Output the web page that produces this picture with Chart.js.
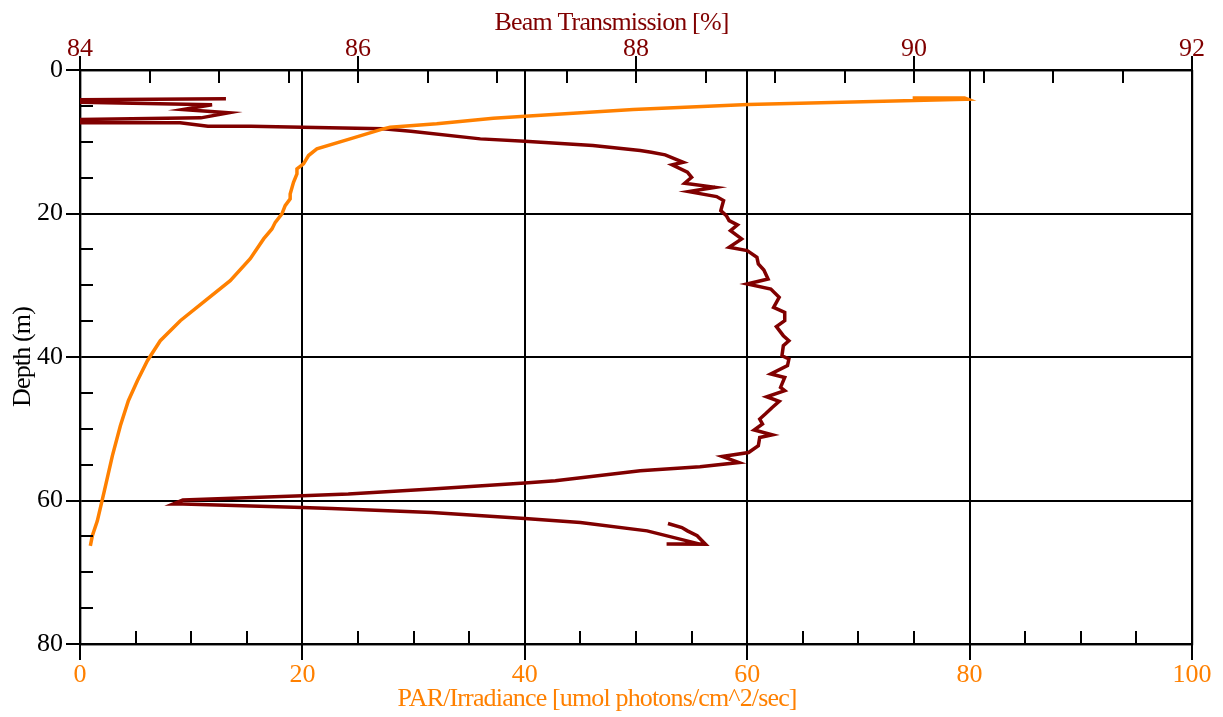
<!DOCTYPE html>
<html>
<head>
<meta charset="utf-8">
<title>Depth profile</title>
<script src="https://cdn.jsdelivr.net/npm/chart.js@4.4.1/dist/chart.umd.min.js"></script>
<style>
  html, body { margin: 0; padding: 0; background: #ffffff; }
  #wrap { width: 1223px; height: 717px; }
</style>
</head>
<body>
<div id="wrap"><canvas id="c" width="1223" height="717"></canvas></div>
<script>
// PAR / irradiance profile (umol photons/cm^2/sec) against depth (m)
const parValues = [74.88, 79.55, 79.82, 60.08, 49.75, 40.02, 37.17, 32.08, 27.89, 27.26, 24.29, 21.30, 20.55, 20.10,
  19.51, 19.51, 19.20, 18.90, 18.90, 18.45, 18.16, 17.56, 17.26, 16.51, 15.31, 13.51, 11.27, 9.02, 7.22,
  6.06, 5.16, 4.35, 3.63, 2.91, 2.19, 1.56, 1.11, 0.93];
const parDepths = [3.91, 3.91, 4.07, 4.81, 5.51, 6.44, 6.72, 7.50, 7.98, 8.20, 9.60, 10.99, 11.92, 13.08,
  13.78, 14.48, 15.65, 17.27, 17.96, 18.90, 20.06, 21.23, 22.15, 23.54, 26.29, 29.36, 32.15, 34.94, 37.73,
  40.52, 43.31, 46.09, 49.58, 53.77, 58.65, 62.83, 64.92, 66.32];

// Beam transmission profile (%) against depth (m)
const beamValues = [85.05, 84.00, 84.00, 84.95, 84.74, 85.07, 84.87, 84.00, 84.00, 84.72, 84.92, 85.23, 85.60,
  86.18, 86.38, 86.88, 87.20, 87.69, 88.03, 88.11, 88.21, 88.34, 88.26, 88.37, 88.40, 88.35, 88.57, 88.38,
  88.58, 88.63, 88.61, 88.65, 88.67, 88.73, 88.68, 88.76, 88.67, 88.80, 88.87, 88.88, 88.92, 88.95, 88.80,
  88.97, 89.03, 88.99, 89.07, 89.07, 89.01, 89.06, 89.10, 89.06, 89.05, 89.10, 89.09, 88.97, 89.07, 89.04,
  89.07, 88.94, 89.03, 88.98, 88.93, 88.89, 88.91, 88.85, 88.98, 88.89, 88.88, 88.81, 88.62, 88.74, 88.46,
  88.03, 87.42, 87.20, 86.53, 85.93, 85.60, 84.74, 84.67, 84.74, 85.60, 85.81, 86.53, 87.20, 87.60, 88.08,
  88.46, 88.50, 88.22, 88.50, 88.44, 88.37, 88.33, 88.23];
const beamDepths = [4.02, 4.16, 4.49, 4.85, 5.51, 5.97, 6.67, 6.90, 7.36, 7.36, 7.84, 7.84, 7.98,
  8.20, 8.54, 9.60, 9.93, 10.53, 11.23, 11.46, 11.83, 12.86, 13.22, 14.25, 14.95, 15.79, 16.35, 16.95,
  17.64, 18.20, 19.60, 20.29, 20.99, 21.59, 22.38, 23.54, 24.71, 25.17, 26.11, 27.03, 27.87, 29.12, 29.82,
  30.52, 31.69, 33.08, 33.78, 34.94, 35.77, 37.03, 37.73, 38.42, 39.82, 40.28, 41.21, 42.37, 42.85, 44.24,
  44.70, 45.54, 46.19, 47.03, 47.95, 48.65, 49.34, 50.18, 50.84, 51.21, 52.37, 53.31, 53.86, 54.70, 55.30,
  55.86, 57.25, 57.57, 58.41, 59.11, 59.34, 59.94, 60.50, 60.50, 60.98, 61.12, 61.67, 62.51, 63.07, 64.23,
  66.08, 66.08, 66.08, 66.11, 64.92, 64.23, 63.77, 63.21];

// Axis ranges, tick settings and titles
const parRange = [0, 100];
const beamRange = [84, 92];
const depthRange = [0, 80];
const parMajor = 20, parMinor = 5;
const beamMajor = 2, beamMinor = 0.5;
const depthMajor = 20, depthMinor = 5;
const parTitle = 'PAR/Irradiance [umol photons/cm^2/sec]';
const beamTitle = 'Beam Transmission [%]';
const depthTitle = 'Depth (m)';

const ORANGE = '#ff8000';
const MAROON = '#800000';
const FAMILY = "'Liberation Serif', 'Times New Roman', serif";
const FONT = { family: FAMILY, size: 26 };

const toPoints = (xs, ys) => xs.map((v, i) => ({ x: v, y: ys[i] }));

// Axis titles in a condensed serif, placed around the plot frame
const axisTitles = {
  id: 'axisTitles',
  afterDraw(chart) {
    const { ctx, chartArea: a } = chart;
    ctx.save();
    ctx.font = '26px ' + FAMILY;
    ctx.letterSpacing = '-0.85px';
    ctx.textAlign = 'center';
    ctx.textBaseline = 'middle';
    ctx.fillStyle = MAROON;
    ctx.fillText(beamTitle, a.left + 0.478 * (a.right - a.left), 23.5);
    ctx.fillStyle = ORANGE;
    ctx.fillText(parTitle, a.left + 0.465 * (a.right - a.left), 699);
    ctx.fillStyle = '#000';
    ctx.translate(23, (a.top + a.bottom) / 2);
    ctx.rotate(-Math.PI / 2);
    ctx.fillText(depthTitle, 0, 0);
    ctx.restore();
  }
};

// Major / minor tick marks on all three axes
const tickMarks = {
  id: 'tickMarks',
  afterDraw(chart) {
    const { ctx, chartArea: a, scales } = chart;
    const sx = scales.x, sx2 = scales.x2, sy = scales.y;
    ctx.save();
    ctx.strokeStyle = '#000';
    ctx.lineWidth = 2;
    ctx.beginPath();
    // bottom axis: minor ticks inward, major ticks outward
    for (let v = parRange[0]; v <= parRange[1] + 1e-9; v += parMinor) {
      const px = Math.round(sx.getPixelForValue(v));
      if (Math.abs(v % parMajor) < 1e-9) {
        ctx.moveTo(px, a.bottom); ctx.lineTo(px, a.bottom + 16);
      } else {
        ctx.moveTo(px, a.bottom); ctx.lineTo(px, a.bottom - 13);
      }
    }
    // top axis: minor ticks inward, major ticks cross the axis
    for (let v = beamRange[0]; v <= beamRange[1] + 1e-9; v += beamMinor) {
      const px = Math.round(sx2.getPixelForValue(v));
      const isMajor = Math.abs((v - beamRange[0]) % beamMajor) < 1e-9;
      ctx.moveTo(px, isMajor ? a.top - 14 : a.top);
      ctx.lineTo(px, a.top + 13);
    }
    // left axis: minor ticks inward, major ticks outward
    for (let v = depthRange[0]; v <= depthRange[1] + 1e-9; v += depthMinor) {
      const py = Math.round(sy.getPixelForValue(v));
      if (Math.abs(v % depthMajor) < 1e-9) {
        ctx.moveTo(a.left - 14, py); ctx.lineTo(a.left, py);
      } else {
        ctx.moveTo(a.left, py); ctx.lineTo(a.left + 13, py);
      }
    }
    ctx.stroke();
    ctx.restore();
  }
};

const edgeWidth = (range) => (c) =>
  (c.tick && (c.tick.value === range[0] || c.tick.value === range[1]) ? 2.2 : 2);

// Fixed axis band sizes; label overhang is covered by the layout padding
const fixHeight = (h) => (s) => { s.height = h; s.paddingLeft = 0; s.paddingRight = 0; };

new Chart(document.getElementById('c'), {
  type: 'line',
  data: {
    datasets: [
      {
        label: 'PAR/Irradiance',
        data: toPoints(parValues, parDepths),
        xAxisID: 'x',
        yAxisID: 'y',
        borderColor: ORANGE,
        borderWidth: 3.5,
        pointRadius: 0,
        tension: 0,
        fill: false
      },
      {
        label: 'Beam Transmission',
        data: toPoints(beamValues, beamDepths),
        xAxisID: 'x2',
        yAxisID: 'y',
        borderColor: MAROON,
        borderWidth: 3.5,
        pointRadius: 0,
        tension: 0,
        fill: false
      }
    ]
  },
  options: {
    responsive: false,
    animation: false,
    layout: { padding: { left: 0, right: 31, top: 0, bottom: 0 } },
    plugins: {
      legend: { display: false },
      tooltip: { enabled: false }
    },
    scales: {
      x: {
        type: 'linear',
        position: 'bottom',
        min: parRange[0],
        max: parRange[1],
        ticks: { stepSize: parMajor, color: ORANGE, font: FONT, padding: 16, maxRotation: 0 },
        grid: { color: '#000', lineWidth: edgeWidth(parRange), drawTicks: false },
        border: { display: true, color: '#000', width: 2.2 },
        title: { display: false },
        afterFit: fixHeight(73)
      },
      x2: {
        type: 'linear',
        position: 'top',
        min: beamRange[0],
        max: beamRange[1],
        ticks: { stepSize: beamMajor, color: MAROON, font: FONT, padding: 5, maxRotation: 0 },
        grid: { display: false, drawTicks: false },
        border: { display: true, color: '#000', width: 2.2 },
        title: { display: false },
        afterFit: fixHeight(70)
      },
      y: {
        type: 'linear',
        position: 'left',
        reverse: true,
        min: depthRange[0],
        max: depthRange[1],
        ticks: { stepSize: depthMajor, color: '#000', font: FONT, padding: 17 },
        grid: { color: '#000', lineWidth: edgeWidth(depthRange), drawTicks: false },
        border: { display: true, color: '#000', width: 2.2 },
        title: { display: false },
        afterFit: (s) => { s.width = 80; s.paddingTop = 0; s.paddingBottom = 0; }
      }
    }
  },
  plugins: [tickMarks, axisTitles]
});
</script>
</body>
</html>
